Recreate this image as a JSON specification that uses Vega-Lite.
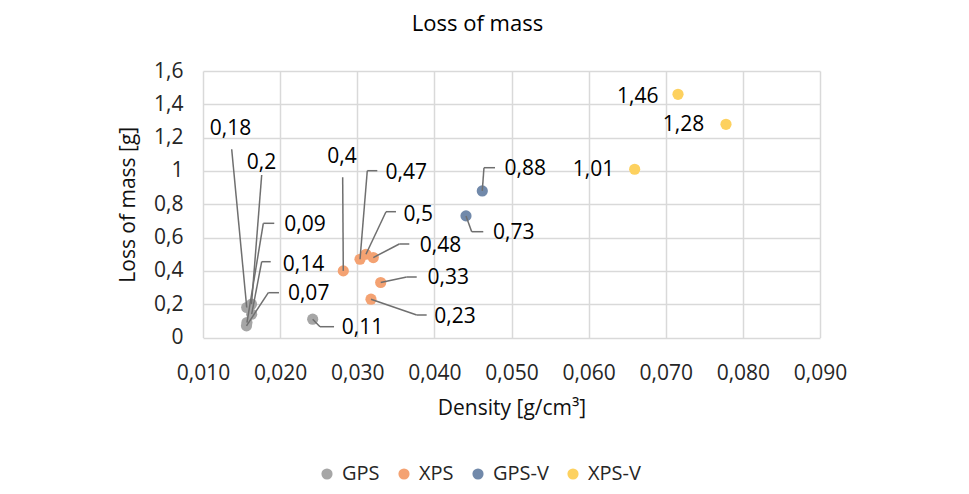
{
  "$schema": "https://vega.github.io/schema/vega-lite/v6.json",
  "autosize": "none",
  "width": 617,
  "height": 266.5,
  "padding": {"left": 203, "top": 71, "right": 149, "bottom": 156.5},
  "background": "white",
  "title": {"text": "Loss of mass", "font": "Open Sans", "fontSize": 22, "fontWeight": "normal", "color": "#000000", "anchor": "middle", "frame": "group", "dx": -34, "offset": 24},
  "config": {
    "view": {"stroke": null},
    "font": "Open Sans",
    "axis": {"grid": true, "gridColor": "#d9d9d9", "gridWidth": 1.5, "domain": false, "ticks": false, "tickSize": 0, "labelFont": "Open Sans", "labelFontSize": 21, "labelColor": "#262626", "labelOverlap": false, "labelFlush": false, "titleFont": "Open Sans", "titleFontSize": 21, "titleFontWeight": "normal", "titleColor": "#111111"},
    "legend": {"orient": "none", "legendX": 114, "legendY": 393, "direction": "horizontal", "title": null, "labelFont": "Open Sans", "labelFontSize": 20, "labelColor": "#262626", "symbolType": "circle", "symbolSize": 125, "symbolStrokeWidth": 0, "labelOffset": 5, "columnPadding": 14}
  },
  "data": {"values": [
    {"series": "GPS", "density": 0.01567, "loss": 0.18, "label": "0,18", "ex": 0.01372, "ey": 1.13, "fx": 0.01372, "tx": 0.013566, "ty": 1.25},
    {"series": "GPS", "density": 0.01629, "loss": 0.2, "label": "0,2", "ex": 0.01761, "ey": 0.9756, "fx": 0.01761, "tx": 0.01759, "ty": 1.0459},
    {"series": "GPS", "density": 0.0157, "loss": 0.09, "label": "0,09", "ex": 0.01782, "ey": 0.6856, "fx": 0.01924, "tx": 0.02323, "ty": 0.6754},
    {"series": "GPS", "density": 0.01631, "loss": 0.14, "label": "0,14", "ex": 0.01761, "ey": 0.4551, "fx": 0.01878, "tx": 0.02303, "ty": 0.4371},
    {"series": "GPS", "density": 0.01564, "loss": 0.07, "label": "0,07", "ex": 0.01847, "ey": 0.269, "fx": 0.01985, "tx": 0.0237, "ty": 0.2594},
    {"series": "GPS", "density": 0.02422, "loss": 0.11, "label": "0,11", "ex": 0.02517, "ey": 0.0648, "fx": 0.02699, "tx": 0.03068, "ty": 0.0552},
    {"series": "XPS", "density": 0.02819, "loss": 0.4, "label": "0,4", "ex": 0.02811, "ey": 0.9618, "fx": 0.02811, "tx": 0.02802, "ty": 1.0819},
    {"series": "XPS", "density": 0.03036, "loss": 0.47, "label": "0,47", "ex": 0.0313, "ey": 1.0014, "fx": 0.0326, "tx": 0.03636, "ty": 0.9858},
    {"series": "XPS", "density": 0.03113, "loss": 0.5, "label": "0,5", "ex": 0.03373, "ey": 0.7553, "fx": 0.03502, "tx": 0.03792, "ty": 0.7355},
    {"series": "XPS", "density": 0.03208, "loss": 0.48, "label": "0,48", "ex": 0.03545, "ey": 0.5614, "fx": 0.03675, "tx": 0.04079, "ty": 0.5493},
    {"series": "XPS", "density": 0.03304, "loss": 0.33, "label": "0,33", "ex": 0.03641, "ey": 0.3632, "fx": 0.03771, "tx": 0.04181, "ty": 0.3554},
    {"series": "XPS", "density": 0.03178, "loss": 0.23, "label": "0,23", "ex": 0.03771, "ey": 0.1351, "fx": 0.039, "tx": 0.04267, "ty": 0.1249},
    {"series": "GPS-V", "density": 0.04621, "loss": 0.88, "label": "0,88", "ex": 0.04643, "ey": 1.0194, "fx": 0.04786, "tx": 0.05179, "ty": 1.0116},
    {"series": "GPS-V", "density": 0.0441, "loss": 0.73, "label": "0,73", "ex": 0.04484, "ey": 0.6352, "fx": 0.04634, "tx": 0.0503, "ty": 0.6256},
    {"series": "XPS-V", "density": 0.07159, "loss": 1.46, "label": "1,46", "ex": null, "ey": null, "fx": null, "tx": 0.06638, "ty": 1.4457},
    {"series": "XPS-V", "density": 0.07781, "loss": 1.28, "label": "1,28", "ex": null, "ey": null, "fx": null, "tx": 0.0723, "ty": 1.2758},
    {"series": "XPS-V", "density": 0.06597, "loss": 1.01, "label": "1,01", "ex": null, "ey": null, "fx": null, "tx": 0.06063, "ty": 1.0056}
  ]},
  "layer": [
    {
      "mark": {"type": "point", "filled": true, "shape": "circle", "size": 125, "opacity": 1},
      "encoding": {
        "x": {"field": "density", "type": "quantitative", "scale": {"domain": [0.01, 0.09], "nice": false, "zero": false}, "axis": {"values": [0.01, 0.02, 0.03, 0.04, 0.05, 0.06, 0.07, 0.08, 0.09], "tickCount": 20, "labelExpr": "replace(format(datum.value, '.3f'), '.', ',')", "labelPadding": 25, "titlePadding": 14}, "title": "Density [g/cm³]"},
        "y": {"field": "loss", "type": "quantitative", "scale": {"domain": [0, 1.6], "nice": false}, "axis": {"values": [0, 0.2, 0.4, 0.6, 0.8, 1, 1.2, 1.4, 1.6], "tickCount": 20, "labelExpr": "replace(format(datum.value, '.1~f'), '.', ',')", "labelPadding": 20, "titlePadding": 15}, "title": "Loss of mass [g]"},
        "color": {"field": "series", "type": "nominal", "scale": {"domain": ["GPS", "XPS", "GPS-V", "XPS-V"], "range": ["#a6a6a6", "#f4a272", "#7189aa", "#fdd15f"]}, "legend": {}}
      }
    },
    {
      "transform": [{"filter": "datum.ex != null"}],
      "mark": {"type": "rule", "color": "#6f6f6f", "strokeWidth": 1.5},
      "encoding": {
        "x": {"field": "density", "type": "quantitative"},
        "y": {"field": "loss", "type": "quantitative"},
        "x2": {"field": "ex"},
        "y2": {"field": "ey"}
      }
    },
    {
      "transform": [{"filter": "datum.ex != null"}],
      "mark": {"type": "rule", "color": "#6f6f6f", "strokeWidth": 1.5},
      "encoding": {
        "x": {"field": "ex", "type": "quantitative"},
        "y": {"field": "ey", "type": "quantitative"},
        "x2": {"field": "fx"},
        "y2": {"field": "ey"}
      }
    },
    {
      "mark": {"type": "text", "font": "Open Sans", "fontSize": 21, "color": "#000000", "align": "center", "baseline": "middle"},
      "encoding": {
        "x": {"field": "tx", "type": "quantitative"},
        "y": {"field": "ty", "type": "quantitative"},
        "text": {"field": "label"}
      }
    }
  ]
}
